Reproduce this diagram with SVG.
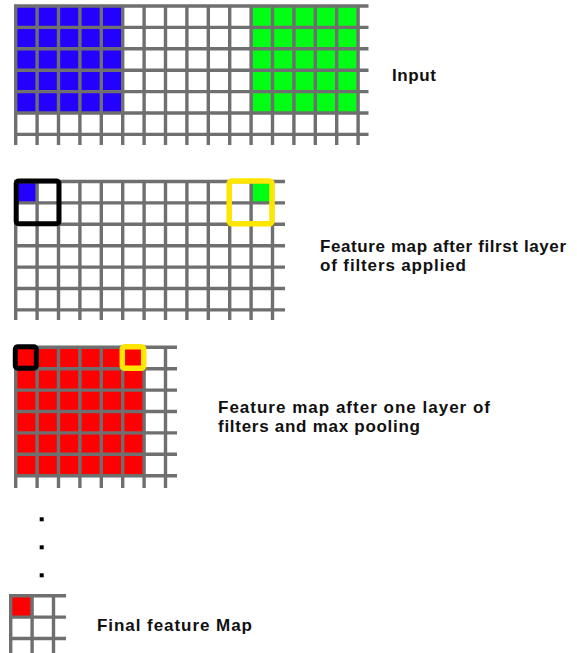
<svg xmlns="http://www.w3.org/2000/svg" width="577" height="653" viewBox="0 0 577 653">
<style>
.g{fill:none;stroke:#6f6f6f;stroke-width:3.4}
.t{font-family:"Liberation Sans",Arial,sans-serif;font-weight:bold;font-size:17px;fill:#111}
.blk{fill:none;stroke:#000;stroke-width:5}
.yel{fill:none;stroke:#ffe600;stroke-width:5.5}
</style>
<rect width="577" height="653" fill="#fff"/>
<g id="input-grid">
<rect x="15.7" y="6" width="107" height="107" fill="#2400ff"/>
<rect x="251.1" y="6" width="107" height="107" fill="#00ff14"/>
<path class="g" d="M15.7 4.3V145M37.1 4.3V145M58.5 4.3V145M79.9 4.3V145M101.3 4.3V145M122.7 4.3V145M144.1 4.3V145M165.5 4.3V145M186.9 4.3V145M208.3 4.3V145M229.7 4.3V145M251.1 4.3V145M272.5 4.3V145M293.9 4.3V145M315.3 4.3V145M336.7 4.3V145M358.1 4.3V145M14 6H368.5M14 27.4H368.5M14 48.8H368.5M14 70.2H368.5M14 91.6H368.5M14 113H368.5M14 134.4H368.5"/>
</g>
<g id="feature-map-1">
<rect x="15.7" y="181.5" width="21.4" height="21.4" fill="#2400ff"/>
<rect x="251.1" y="181.5" width="21.4" height="21.4" fill="#00ff14"/>
<path class="g" d="M15.7 179.8V320M37.1 179.8V320M58.5 179.8V320M79.9 179.8V320M101.3 179.8V320M122.7 179.8V320M144.1 179.8V320M165.5 179.8V320M186.9 179.8V320M208.3 179.8V320M229.7 179.8V320M251.1 179.8V320M272.5 179.8V320M14 181.5H285M14 202.9H285M14 224.3H285M14 245.7H285M14 267.1H285M14 288.5H285M14 309.9H285"/>
<rect class="blk" x="16.2" y="181" width="42.8" height="42.8" rx="2.5"/>
<rect class="yel" x="229.2" y="181" width="42.8" height="42.8" rx="2.5"/>
</g>
<g id="feature-map-2">
<rect x="15.7" y="347.3" width="128.4" height="128.4" fill="#ff0000"/>
<path class="g" d="M15.7 345.6V488M37.1 345.6V488M58.5 345.6V488M79.9 345.6V488M101.3 345.6V488M122.7 345.6V488M144.1 345.6V488M165.5 345.6V488M14 347.3H177M14 368.7H177M14 390.1H177M14 411.5H177M14 432.9H177M14 454.3H177M14 475.7H177"/>
<rect class="blk" x="15.3" y="346.8" width="21" height="21.5" rx="2.5"/>
<rect class="yel" x="122.3" y="346.8" width="21.4" height="21.5" rx="2.5"/>
</g>
<g id="dots" fill="#000">
<rect x="39.7" y="517.3" width="4" height="4"/>
<rect x="39.7" y="545.3" width="4" height="4"/>
<rect x="39.7" y="573.3" width="4" height="4"/>
</g>
<g id="final-map">
<rect x="10.7" y="595.7" width="21.4" height="21.4" fill="#ff0000"/>
<path class="g" d="M10.7 594V653M32.1 594V653M53.5 594V653M9 595.7H66M9 617.1H66M9 638.5H66"/>
</g>
<g id="labels">
<text class="t" x="392" y="81" textLength="44" lengthAdjust="spacing">Input</text>
<text class="t" x="320" y="251.5" textLength="246" lengthAdjust="spacing">Feature map after filrst layer</text>
<text class="t" x="320" y="271" textLength="146" lengthAdjust="spacing">of filters applied</text>
<text class="t" x="218" y="412.5" textLength="272" lengthAdjust="spacing">Feature map after one layer of</text>
<text class="t" x="218" y="432" textLength="202" lengthAdjust="spacing">filters and max pooling</text>
<text class="t" x="97" y="631" textLength="155" lengthAdjust="spacing">Final feature Map</text>
</g>
</svg>
